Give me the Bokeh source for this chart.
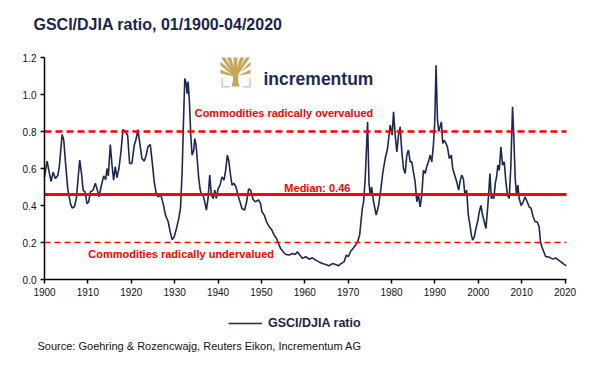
from bokeh.plotting import figure
from bokeh.models import (Range1d, FixedTicker, Label, PolyAnnotation,
                          Legend, LegendItem, NumeralTickFormatter)
from bokeh.embed import file_html
from bokeh.resources import INLINE

# ---------------- data ----------------
years = [
    1900.0, 1900.6, 1901.0, 1901.5, 1902.0, 1902.5, 1903.1, 1903.45, 1904.06, 1904.44,
    1904.83, 1905.36, 1905.98, 1906.36, 1906.9, 1907.36, 1907.74, 1908.12, 1908.58, 1908.89,
    1909.35, 1909.8, 1910.19, 1910.57, 1911.19, 1911.72, 1912.11, 1912.57, 1913.03, 1913.64,
    1914.1, 1914.41, 1914.71, 1915.17, 1915.56, 1915.94, 1916.32, 1916.7, 1917.16, 1917.62,
    1918.08, 1918.62, 1919.16, 1919.62, 1920.15, 1920.69, 1921.15, 1921.53, 1921.92, 1922.45,
    1922.99, 1923.45, 1923.83, 1924.37, 1924.83, 1925.29, 1925.83, 1926.21, 1926.82, 1927.36,
    1927.89, 1928.51, 1928.97, 1929.43, 1929.89, 1930.42, 1930.96, 1931.34, 1931.73, 1932.03,
    1932.34, 1932.65, 1932.88, 1933.1, 1933.41, 1933.72, 1934.02, 1934.41, 1934.64, 1934.94,
    1935.25, 1935.56, 1935.86, 1936.17, 1936.55, 1936.94, 1937.32, 1937.7, 1938.09, 1938.47,
    1938.93, 1939.24, 1939.62, 1940.0, 1940.46, 1940.92, 1941.38, 1941.76, 1942.15, 1942.45,
    1942.84, 1943.22, 1943.68, 1944.14, 1944.6, 1945.06, 1945.52, 1946.13, 1946.59, 1947.05,
    1947.51, 1948.05, 1948.58, 1949.35, 1949.81, 1950.12, 1950.66, 1951.19, 1951.81, 1952.42,
    1952.95, 1953.49, 1953.95, 1954.41, 1955.02, 1955.64, 1956.4, 1957.17, 1957.78, 1958.32,
    1958.85, 1959.47, 1960.23, 1961.0, 1961.77, 1962.53, 1963.3, 1964.07, 1964.83, 1965.6,
    1966.36, 1967.13, 1967.74, 1968.36, 1969.05, 1969.58, 1970.04, 1970.58, 1971.12, 1971.73,
    1972.19, 1972.65, 1972.95, 1973.26, 1973.56, 1973.94, 1974.48, 1974.8, 1975.09, 1975.4,
    1975.86, 1976.47, 1977.01, 1977.54, 1978.0, 1978.54, 1979.08, 1979.69, 1980.15, 1980.46,
    1980.84, 1981.22, 1981.6, 1981.99, 1982.37, 1982.76, 1983.14, 1983.52, 1983.9, 1984.29,
    1984.67, 1985.05, 1985.44, 1985.82, 1986.2, 1986.59, 1986.97, 1987.35, 1987.74, 1988.12,
    1988.5, 1988.89, 1989.27, 1989.65, 1989.96, 1990.26, 1990.57, 1990.88, 1991.18, 1991.49,
    1991.8, 1992.1, 1992.56, 1992.87, 1993.33, 1993.79, 1994.1, 1994.56, 1995.02, 1995.48,
    1995.78, 1996.17, 1996.55, 1996.93, 1997.31, 1997.7, 1998.08, 1998.4, 1998.7, 1999.08,
    1999.46, 1999.84, 2000.23, 2000.61, 2000.99, 2001.38, 2001.76, 2002.14, 2002.37, 2002.68,
    2002.99, 2003.29, 2003.6, 2003.91, 2004.21, 2004.52, 2004.83, 2005.21, 2005.59, 2005.98,
    2006.36, 2006.74, 2007.13, 2007.51, 2007.89, 2008.2, 2008.5, 2008.81, 2009.12, 2009.42,
    2009.88, 2010.34, 2010.8, 2011.26, 2011.72, 2012.18, 2012.64, 2013.1, 2013.56, 2014.02,
    2014.33, 2014.63, 2015.09, 2015.55, 2016.01, 2016.63, 2017.24, 2017.85, 2018.47, 2019.08,
    2019.54, 2020.3,
]
ratio = [
    0.555, 0.64, 0.59, 0.53, 0.58, 0.546, 0.564, 0.618, 0.784, 0.753,
    0.636, 0.49, 0.41, 0.387, 0.393, 0.44, 0.546, 0.645, 0.564, 0.483,
    0.474, 0.41, 0.42, 0.474, 0.483, 0.52, 0.49, 0.447, 0.50, 0.56,
    0.54, 0.60, 0.56, 0.73, 0.618, 0.537, 0.61, 0.55, 0.60, 0.69,
    0.81, 0.80, 0.78, 0.627, 0.627, 0.726, 0.762, 0.81, 0.744, 0.654,
    0.64, 0.672, 0.717, 0.73, 0.636, 0.528, 0.456, 0.447, 0.456, 0.41,
    0.348, 0.312, 0.258, 0.216, 0.23, 0.276, 0.33, 0.384, 0.58, 0.852,
    1.087, 1.06, 1.005, 1.07, 0.96, 0.78, 0.672, 0.70, 0.762, 0.726,
    0.636, 0.546, 0.49, 0.456, 0.456, 0.42, 0.375, 0.438, 0.564, 0.456,
    0.438, 0.483, 0.438, 0.49, 0.51, 0.555, 0.537, 0.59, 0.672, 0.645,
    0.573, 0.51, 0.52, 0.50, 0.456, 0.42, 0.384, 0.375, 0.42, 0.49,
    0.483, 0.434, 0.42, 0.43, 0.41, 0.366, 0.348, 0.312, 0.285, 0.267,
    0.24, 0.222, 0.195, 0.168, 0.15, 0.135, 0.132, 0.14, 0.135, 0.15,
    0.132, 0.114, 0.123, 0.11, 0.117, 0.105, 0.095, 0.086, 0.081, 0.074,
    0.086, 0.081, 0.074, 0.086, 0.095, 0.132, 0.123, 0.153, 0.168, 0.186,
    0.204, 0.24, 0.312, 0.384, 0.42, 0.55, 0.852, 0.52, 0.456, 0.50,
    0.42, 0.348, 0.40, 0.49, 0.58, 0.654, 0.708, 0.834, 0.78, 0.906,
    0.78, 0.69, 0.78, 0.825, 0.69, 0.60, 0.573, 0.672, 0.70, 0.636,
    0.636, 0.58, 0.528, 0.42, 0.456, 0.393, 0.456, 0.59, 0.573, 0.61,
    0.636, 0.672, 0.636, 0.726, 0.852, 1.158, 0.87, 0.80, 0.825, 0.852,
    0.735, 0.753, 0.735, 0.717, 0.654, 0.672, 0.60, 0.564, 0.528, 0.483,
    0.528, 0.564, 0.546, 0.456, 0.483, 0.348, 0.294, 0.24, 0.213, 0.23,
    0.276, 0.312, 0.366, 0.40, 0.348, 0.312, 0.276, 0.384, 0.456, 0.573,
    0.438, 0.447, 0.438, 0.52, 0.555, 0.618, 0.59, 0.717, 0.618, 0.636,
    0.528, 0.456, 0.438, 0.618, 0.933, 0.762, 0.546, 0.456, 0.51, 0.438,
    0.40, 0.42, 0.447, 0.42, 0.393, 0.384, 0.339, 0.312, 0.312, 0.285,
    0.204, 0.177, 0.15, 0.123, 0.123, 0.117, 0.11, 0.117, 0.105, 0.095,
    0.086, 0.074,
]
x_ticks = [1900, 1910, 1920, 1930, 1940, 1950, 1960, 1970, 1980, 1990, 2000, 2010, 2020]
y_ticks = [0.0, 0.2, 0.4, 0.6, 0.8, 1.0, 1.2]
x_start, x_end = 1900.0, 2020.33      # 01/1900 .. 04/2020
y_start, y_end = 0.0, 1.2
median_level = 0.46
over_level = 0.8
under_level = 0.2
series_name = "GSCI/DJIA ratio"
title_text = "GSCI/DJIA ratio, 01/1900-04/2020"
source_text = "Source: Goehring & Rozencwajg, Reuters Eikon, Incrementum AG"

# ---------------- layout ----------------
W, H = 606, 369
AX_L, AX_R, AX_T, AX_B = 44, 566, 57, 279      # plot area in page pixels
ppx = (AX_R - AX_L) / (x_end - x_start)
ppy = (AX_B - AX_T) / (y_end - y_start)

FONT = "Liberation Sans"
NAVY = "#1a2852"
RED = "#ff0000"
GOLD = "#c9a55c"

p = figure(width=W, height=H, output_backend="svg", toolbar_location=None,
           x_range=Range1d(x_start - AX_L / ppx, x_end + (W - AX_R) / ppx),
           y_range=Range1d(y_start - (H - AX_B) / ppy, y_end + AX_T / ppy),
           min_border=0)
p.title.visible = False
p.outline_line_color = None
p.grid.visible = False
p.background_fill_color = "white"
p.border_fill_color = "white"

for ax in (p.xaxis[0], p.yaxis[0]):
    ax.axis_line_color = "black"
    ax.axis_line_width = 1.5
    ax.major_tick_line_color = "black"
    ax.major_tick_line_width = 1.5
    ax.major_tick_out = 4
    ax.major_tick_in = 0
    ax.minor_tick_line_color = None
    ax.major_label_text_font = FONT
    ax.major_label_text_font_size = "10px"
    ax.major_label_text_color = "#111111"
    ax.major_label_standoff = 4

p.xaxis.ticker = FixedTicker(ticks=x_ticks)
p.yaxis.ticker = FixedTicker(ticks=y_ticks)
p.yaxis.formatter = NumeralTickFormatter(format="0.0")
p.xaxis.fixed_location = y_start
p.yaxis.fixed_location = x_start
p.xaxis.bounds = (x_start, x_end)
p.yaxis.bounds = (y_start, y_end)

r = p.line(years, ratio, line_color=NAVY, line_width=1.6)

p.segment(x0=[x_start], x1=[x_end], y0=[over_level], y1=[over_level],
          line_color=RED, line_width=2.5, line_dash="7 4")
p.segment(x0=[x_start], x1=[x_end], y0=[under_level], y1=[under_level],
          line_color=RED, line_width=1.6, line_dash="6 4")
p.segment(x0=[x_start], x1=[x_end], y0=[median_level], y1=[median_level],
          line_color=RED, line_width=3)

lab_kw = dict(text_font=FONT, text_font_style="bold", text_font_size="11px",
              text_color=RED, text_align="center", text_baseline="middle")
p.add_layout(Label(x=1955.2, y=0.90, text="Commodities radically overvalued", **lab_kw))
p.add_layout(Label(x=1962.9, y=0.495, text="Median: 0.46", **lab_kw))
p.add_layout(Label(x=1931.5, y=0.14, text="Commodities radically undervalued", **lab_kw))

# title and source (screen units, y measured from the bottom of the canvas)
p.add_layout(Label(x=33, y=H - 24, x_units="screen", y_units="screen", text=title_text,
                   text_font=FONT, text_font_style="bold", text_font_size="16px",
                   text_color="#1b2547", text_baseline="middle"))
p.add_layout(Label(x=37, y=H - 345, x_units="screen", y_units="screen", text=source_text,
                   text_font=FONT, text_font_size="11px", text_color="#111111",
                   text_baseline="middle"))

# legend
legend = Legend(items=[LegendItem(label=series_name, renderers=[r])],
                location=(228, H - 330), orientation="horizontal",
                border_line_color=None, background_fill_alpha=0,
                padding=0, margin=0, spacing=0, glyph_width=34, glyph_height=14,
                label_height=14, label_standoff=6, label_text_font=FONT,
                label_text_font_size="12.5px", label_text_font_style="bold",
                label_text_color="#1b2547", label_text_baseline="middle")
p.add_layout(legend)

# logo (decorative)
p.add_layout(Label(x=263, y=H - 78.5, x_units="screen", y_units="screen", text="incrementum",
                   text_font=FONT, text_font_style="bold", text_font_size="17.5px",
                   text_color="#1b2a5a", text_baseline="alphabetic"))

def poly(pts, color):
    xs = [px for px, py in pts]
    ys = [H - py for px, py in pts]
    p.add_layout(PolyAnnotation(xs=xs, ys=ys, xs_units="screen", ys_units="screen",
                                fill_color=color, fill_alpha=1.0, line_color=None))

poly([(231, 86), (239, 86), (237.5, 80), (237.5, 72), (232.5, 72), (232.5, 80)], GOLD)
bx, by = 235, 76
for ex, ey in [(220, 71), (220, 63), (222.5, 57), (228.5, 57), (235, 57),
               (241.5, 57), (247.5, 57), (250, 63), (250, 71)]:
    if ey == 57:
        tip = [(ex + 2, ey), (ex - 2, ey)]
    else:
        tip = [(ex, ey - 2), (ex, ey + 2)]
    poly([(bx - 1.2, by), (bx + 1.2, by)] + tip, GOLD)
GREY = "#c8c8d0"
poly([(221, 78), (222.5, 78), (222.5, 85.5), (229, 85.5), (229, 87), (221, 87)], GREY)
poly([(250.5, 78), (249, 78), (249, 85.5), (242.5, 85.5), (242.5, 87), (250.5, 87)], GREY)

open("out.html", "w").write(file_html(p, INLINE))
